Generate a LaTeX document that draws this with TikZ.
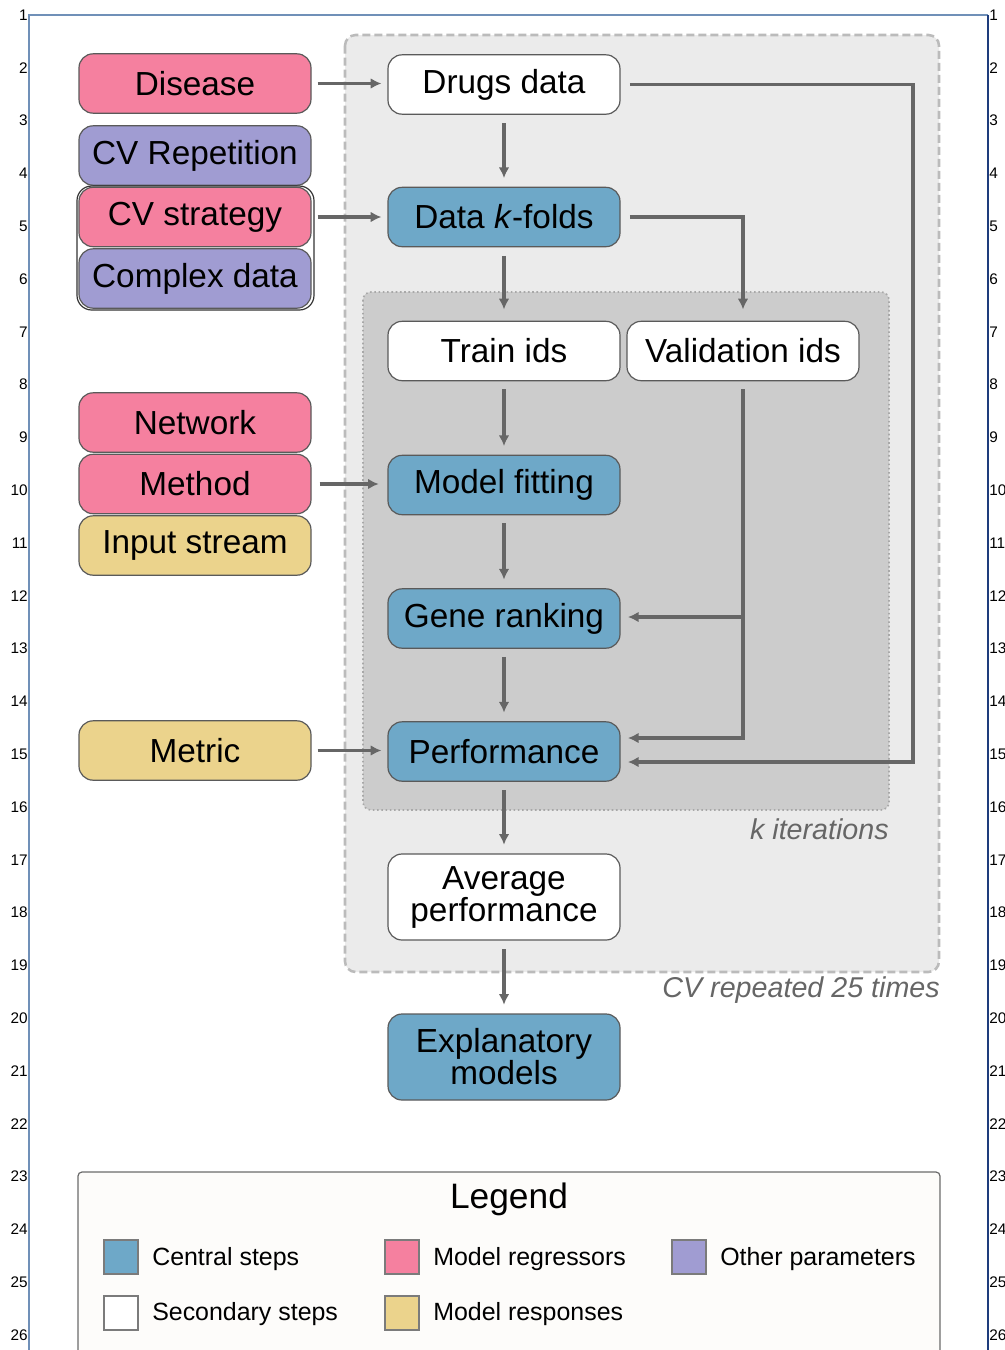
\documentclass[tikz,border=0pt]{standalone}
\usepackage{fontspec}
\setmainfont{Liberation Sans}
\usetikzlibrary{arrows.meta,calc}
\definecolor{cpink}{HTML}{F5809F}
\definecolor{cpurple}{HTML}{A09CD2}
\definecolor{cyellow}{HTML}{EBD38C}
\definecolor{cblue}{HTML}{6EA8C8}
\definecolor{cwhite}{HTML}{FFFFFF}
\definecolor{carrow}{HTML}{666666}
\definecolor{cborder}{HTML}{5A5A5A}
\definecolor{outerfill}{HTML}{EBEBEB}
\definecolor{outerdraw}{HTML}{BBBBBB}
\definecolor{innerfill}{HTML}{CCCCCC}
\definecolor{innerdraw}{HTML}{A8A8A8}
\definecolor{framea}{HTML}{7090B8}
\definecolor{frameb}{HTML}{1E3C7C}
\definecolor{legfill}{HTML}{FDFCFA}
\begin{document}
\begin{tikzpicture}[x=0.75pt,y=-0.75pt,
  box/.style={draw=cborder,line width=0.9pt,rounded corners=10.5pt,minimum width=174pt,minimum height=44.5pt,inner sep=0pt,align=center,font=\fontsize{25}{24}\selectfont},
  tall/.style={box,minimum height=64.5pt},
  arr/.style={draw=carrow,line width=2.7pt,-{Latex[length=8pt,width=8pt]},shorten >=4.5pt},
  rownum/.style={font=\fontsize{11.5}{12}\selectfont,inner sep=0pt},
  legsq/.style={draw=cborder!80,line width=0.8pt,minimum width=25.5pt,minimum height=25.5pt,inner sep=0pt},
  legtxt/.style={anchor=west,inner sep=0pt,font=\fontsize{18.7}{20}\selectfont},
  note/.style={text=carrow,font=\fontsize{21.5}{22}\selectfont\itshape,inner sep=0pt}]
\useasboundingbox (0,0) rectangle (1004,1350);
% frame
\draw[framea,line width=1pt] (29,1350) -- (29,15) -- (988,15);
\draw[frameb,line width=1pt] (988,15) -- (988,1350);
\foreach \i in {1,...,26}{
  \node[rownum,anchor=east] (L\i) at (28,{15+(\i-1)*52.8}) {\i};
  \node[rownum,anchor=west] (R\i) at (989,{15+(\i-1)*52.8}) {\i};
}
% background boxes
\draw[draw=outerdraw,fill=outerfill,line width=1.9pt,dash pattern=on 6pt off 3pt,rounded corners=8pt] (345,35) rectangle (939,972);
\draw[draw=innerdraw,fill=innerfill,line width=1.2pt,dotted,rounded corners=6pt] (363,292) rectangle (889,810);
\node[note,anchor=east] (kit) at (889,829) {k iterations};
\node[note,anchor=east] (cvrep) at (940,990) {CV repeated 25 times};
% left nodes
\node[box,fill=cpink] (disease) at (195,83.5) {Disease};
\node[box,fill=cpurple] (cvrep2) at (195,155.5) {CV Repetition};
\draw[draw=black!80,line width=0.9pt,rounded corners=11pt] (77,186) rectangle (314,310);
\node[box,fill=cpink] (cvstrat) at (195,217) {CV strategy};
\node[box,fill=cpurple] (complex) at (195,278.5) {Complex data};
\node[box,fill=cpink] (network) at (195,422.5) {Network};
\node[box,fill=cpink] (method) at (195,484) {Method};
\node[box,fill=cyellow] (input) at (195,545.5) {Input stream};
\node[box,fill=cyellow] (metric) at (195,750.5) {Metric};
% central nodes
\node[box,fill=cwhite] (drugs) at (504,84.5) {Drugs data};
\node[box,fill=cblue] (kfolds) at (504,217) {Data \textit{k}-folds};
\node[box,fill=cwhite] (train) at (504,351) {Train ids};
\node[box,fill=cwhite] (valid) at (743,351) {Validation ids};
\node[box,fill=cblue] (fit) at (504,485) {Model fitting};
\node[box,fill=cblue] (gene) at (504,618.5) {Gene ranking};
\node[box,fill=cblue] (perf) at (504,751.5) {Performance};
\node[tall,fill=cwhite] (avg) at (504,897) {Average\\performance};
\node[tall,fill=cblue] (expl) at (504,1057) {Explanatory\\models};
% connector coordinates
\coordinate (c1) at (913,762);
\coordinate (c2) at (743,738);
\coordinate (c3) at (743,617);
% connectors
\draw[arr] ([xshift=4.5pt]disease.east) -- (drugs.west |- disease.east);
\draw[arr] ([xshift=4.5pt]cvstrat.east) -- (kfolds.west |- cvstrat.east);
\draw[arr] ([xshift=6pt]method.east) -- ([xshift=-2pt]fit.west |- method.east);
\draw[arr] ([xshift=4.5pt]metric.east) -- (perf.west |- metric.east);
\draw[arr,shorten >=6.5pt] ([yshift=-6.5pt]drugs.south) -- (kfolds.north);
\draw[arr,shorten >=6.5pt] ([yshift=-6.5pt]kfolds.south) -- ([yshift=2pt]train.north);
\draw[arr,shorten >=6.5pt] ([yshift=-6pt]train.south) -- (fit.north);
\draw[arr,shorten >=6.5pt] ([yshift=-6pt]fit.south) -- (gene.north);
\draw[arr,shorten >=6.5pt] ([yshift=-6pt]gene.south) -- (perf.north);
\draw[arr,shorten >=6.5pt] ([yshift=-6.5pt]perf.south) -- (avg.north);
\draw[arr,shorten >=6.5pt] ([yshift=-6.5pt]avg.south) -- (expl.north);
\draw[arr,shorten >=5.5pt] ([xshift=7pt]drugs.east) -| (c1) -- (perf.east |- c1);
\draw[arr,shorten >=6.5pt] ([xshift=7pt]kfolds.east) -| ([yshift=2pt]valid.north);
\draw[arr,shorten >=5.5pt] ([yshift=-6pt]valid.south) -- (c2) -- (perf.east |- c2);
\draw[arr,shorten >=5.5pt] (c3) -- (gene.east |- c3);
% legend
\draw[draw=cborder!90,fill=legfill,line width=0.9pt,rounded corners=3pt] (78,1380) -- (78,1172) -- (940,1172) -- (940,1380);
\node[font=\fontsize{26.5}{28}\selectfont,inner sep=0pt] (legtitle) at (509,1199) {Legend};
\node[legsq,fill=cblue] (sq1) at (121,1257) {};
\node[legtxt] (t1) at (152,1259) {Central steps};
\node[legsq,fill=cwhite] (sq2) at (121,1313) {};
\node[legtxt] (t2) at (152,1314) {Secondary steps};
\node[legsq,fill=cpink] (sq3) at (402,1257) {};
\node[legtxt] (t3) at (433,1259) {Model regressors};
\node[legsq,fill=cyellow] (sq4) at (402,1313) {};
\node[legtxt] (t4) at (433,1314) {Model responses};
\node[legsq,fill=cpurple] (sq5) at (689,1257) {};
\node[legtxt] (t5) at (720,1259) {Other parameters};
\end{tikzpicture}
\end{document}
